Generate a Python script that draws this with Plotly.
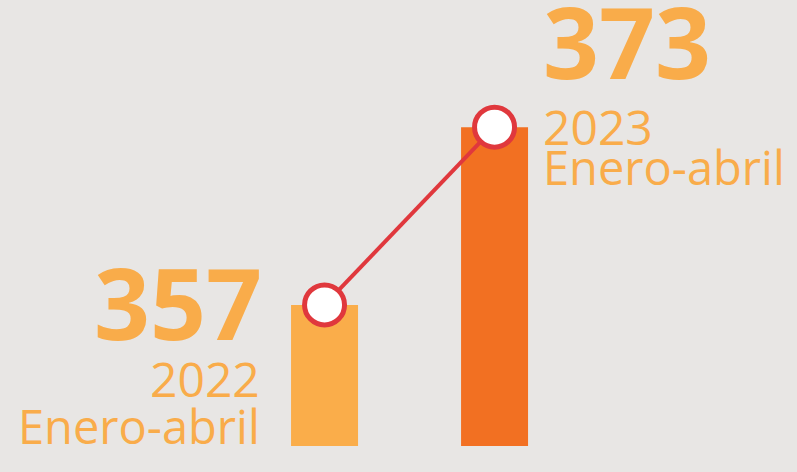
import plotly.graph_objects as go

# ── Data ──────────────────────────────────────────────────────────────────────
years   = ["2022", "2023"]
values  = [357, 373]
periods = ["Enero-abril", "Enero-abril"]

# ── Design tokens ─────────────────────────────────────────────────────────────
_BG      = "#E8E6E4"
_C_LIGHT = "#FAAD4A"
_C_DARK  = "#F27022"
_C_LINE  = "#E0383D"
_C_TEXT  = "#F9AC4A"
_FONT    = "Open Sans, sans-serif"

fig = go.Figure()
fig.add_trace(go.Bar(
    x=years, y=values,
    width=0.394,
    marker=dict(color=[_C_LIGHT, _C_DARK], line=dict(width=0)),
    hoverinfo="skip",
))
fig.add_trace(go.Scatter(
    x=years, y=values, mode="lines+markers",
    line=dict(color=_C_LINE, width=4),
    marker=dict(size=40, color="white", line=dict(color=_C_LINE, width=5)),
    cliponaxis=False,
    hoverinfo="skip",
))


def _label(i, text, size, weight, xanchor, xshift, yshift):
    # category index i keeps "2022"-like labels from being read as numbers
    fig.add_annotation(x=i, y=values[i], text=text,
                       xanchor=xanchor, yanchor="middle",
                       xshift=xshift, yshift=yshift, showarrow=False,
                       font=dict(size=size, color=_C_TEXT, family=_FONT,
                                 weight=weight))


# left block (2022): right-aligned, to the left of the bar
_label(0, str(values[0]), 98, 700, "right", -61, 3)
_label(0, years[0], 48, 500, "right", -63, -74)
_label(0, periods[0], 47, 500, "right", -63, -121)

# right block (2023): left-aligned, to the right of the bar
_label(1, str(values[1]), 98, 700, "left", 46, 86)
_label(1, years[1], 48, 500, "left", 46, 1)
_label(1, periods[1], 47, 500, "left", 46, -40)

fig.update_layout(
    width=797, height=472,
    paper_bgcolor=_BG, plot_bgcolor=_BG,
    margin=dict(l=0, r=0, t=0, b=26),
    showlegend=False,
    xaxis=dict(type="category", range=[-1.909, 2.779], visible=False,
               fixedrange=True),
    yaxis=dict(range=[344.3, 384.45], visible=False, fixedrange=True),
)

fig.write_html("out.html", config=dict(displayModeBar=False),
               post_script="document.body.style.margin='0';")
